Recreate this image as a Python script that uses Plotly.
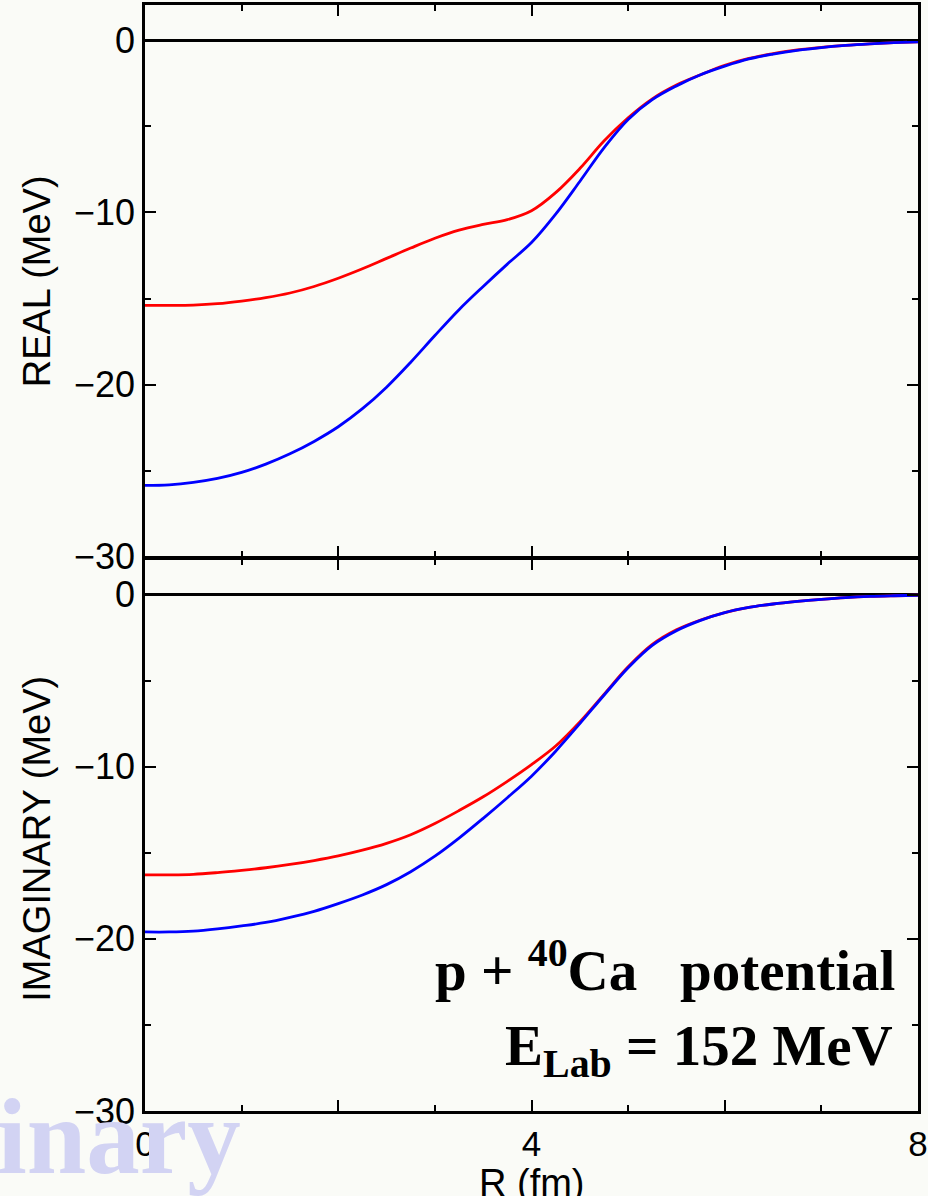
import plotly.graph_objects as go

# ---- data ----
r_grid = [0, 0.25, 0.5, 0.75, 1.0, 1.25, 1.5, 1.75, 2.0, 2.25, 2.5, 2.75, 3.0, 3.25,
          3.5, 3.75, 4.0, 4.25, 4.5, 4.75, 5.0, 5.25, 5.5, 5.75, 6.0, 6.25, 6.5,
          6.75, 7.0, 7.25, 7.5, 7.75, 8.0]

real_red = [-15.4, -15.4, -15.38, -15.3, -15.15, -14.95, -14.68, -14.3, -13.82, -13.27,
            -12.67, -12.07, -11.5, -11.03, -10.7, -10.42, -9.9, -8.85, -7.45, -5.85, -4.5,
            -3.4, -2.6, -2.0, -1.45, -1.05, -0.78, -0.56, -0.41, -0.3, -0.21, -0.14, -0.09]

real_blue = [-25.85, -25.82, -25.68, -25.45, -25.1, -24.62, -24.02, -23.3, -22.45, -21.4,
             -20.15, -18.7, -17.15, -15.65, -14.3, -13.0, -11.75, -10.1, -8.2, -6.25, -4.6,
             -3.45, -2.65, -2.0, -1.5, -1.08, -0.8, -0.58, -0.42, -0.3, -0.21, -0.14, -0.09]

imag_red = [-16.28, -16.28, -16.25, -16.15, -16.02, -15.87, -15.68, -15.45, -15.18, -14.85,
            -14.45, -13.95, -13.3, -12.55, -11.75, -10.85, -9.88, -8.8, -7.4, -5.8, -4.2,
            -2.9, -2.05, -1.48, -1.05, -0.75, -0.55, -0.4, -0.28, -0.18, -0.11, -0.07, -0.04]

imag_blue = [-19.6, -19.6, -19.55, -19.42, -19.25, -19.05, -18.75, -18.4, -17.95, -17.45,
             -16.85, -16.1, -15.2, -14.15, -13.0, -11.8, -10.55, -9.1, -7.5, -5.85, -4.25,
             -2.95, -2.1, -1.5, -1.05, -0.75, -0.55, -0.4, -0.28, -0.18, -0.11, -0.07, -0.04]

RED = "#ff0000"
BLUE = "#0000ff"
BG = "#fafbf7"
SANS = "Liberation Sans, Arial, Helvetica, sans-serif"
SERIF = "Liberation Serif, Times New Roman, serif"

fig = go.Figure()

line_kw = dict(shape="spline", smoothing=1.0, width=2.8)
# top panel (REAL): xaxis2 / yaxis2
fig.add_trace(go.Scatter(x=r_grid, y=real_red, mode="lines", line=dict(color=RED, **line_kw),
                         xaxis="x2", yaxis="y2", showlegend=False))
fig.add_trace(go.Scatter(x=r_grid, y=real_blue, mode="lines", line=dict(color=BLUE, **line_kw),
                         xaxis="x2", yaxis="y2", showlegend=False))
# bottom panel (IMAGINARY): xaxis / yaxis
fig.add_trace(go.Scatter(x=r_grid, y=imag_red, mode="lines", line=dict(color=RED, **line_kw),
                         xaxis="x", yaxis="y", showlegend=False))
fig.add_trace(go.Scatter(x=r_grid, y=imag_blue, mode="lines", line=dict(color=BLUE, **line_kw),
                         xaxis="x", yaxis="y", showlegend=False))

LW = 2.5
xaxis_common = dict(range=[0, 8], showgrid=False, zeroline=False, showline=True,
                    linecolor="black", linewidth=LW, mirror="allticks", automargin=False,
                    ticks="inside", ticklen=11, tickwidth=2, tickcolor="black",
                    tickmode="linear", tick0=0, dtick=2, ticklabelstep=2,
                    minor=dict(ticks="inside", ticklen=6, tickwidth=2, tickcolor="black", dtick=1, showgrid=False),
                    tickfont=dict(family=SANS, size=35, color="black"))
yaxis_common = dict(range=[-30, 2.05], showgrid=False, zeroline=True, zerolinecolor="black",
                    zerolinewidth=2.5, showline=True, linecolor="black", linewidth=LW,
                    mirror="allticks", automargin=False, ticks="inside", ticklen=11, tickwidth=2,
                    tickcolor="black", tickmode="linear", tick0=0, dtick=10,
                    minor=dict(ticks="inside", ticklen=6, tickwidth=2, tickcolor="black", dtick=5, showgrid=False),
                    tickfont=dict(family=SANS, size=36, color="black"))

PLOT_H = 1196 - 5 - 85
gap = LW / PLOT_H

fig.update_layout(
    width=928, height=1196,
    margin=dict(l=145, r=10, t=5, b=85, autoexpand=False),
    paper_bgcolor=BG, plot_bgcolor=BG,
    xaxis=dict(**xaxis_common, anchor="y", domain=[0, 1]),
    xaxis2=dict(**xaxis_common, anchor="y2", domain=[0, 1], showticklabels=False, matches="x"),
    yaxis=dict(**yaxis_common, anchor="x", domain=[0, 0.5 - gap / 2]),
    yaxis2=dict(**yaxis_common, anchor="x2", domain=[0.5 + gap / 2, 1]),
)

annotations = [
    dict(text="<b>inary</b>", xref="paper", yref="paper", x=-0.194, y=-0.0235, xanchor="left", yanchor="middle",
         showarrow=False, font=dict(family=SERIF, size=107, color="#d2d3f3")),
    dict(text="REAL (MeV)", xref="paper", yref="paper", x=-0.14, y=0.75, xanchor="center", yanchor="middle",
         textangle=-90, showarrow=False, font=dict(family=SANS, size=38, color="black")),
    dict(text="IMAGINARY (MeV)", xref="paper", yref="paper", x=-0.14, y=0.246, xanchor="center", yanchor="middle",
         textangle=-90, showarrow=False, font=dict(family=SANS, size=38, color="black")),
    dict(text="R (fm)", xref="x", yref="paper", x=4.0, y=-0.065, xanchor="center", yanchor="middle",
         showarrow=False, font=dict(family=SANS, size=38, color="black")),
    dict(text="<b>p + <sup>40</sup>Ca\u00a0\u00a0\u00a0potential</b>", xref="x", yref="y", x=7.78, y=-21.6,
         xanchor="right", yanchor="middle", showarrow=False,
         font=dict(family=SERIF, size=57, color="black")),
    dict(text="<b>E<sub>Lab</sub> = 152 MeV</b>", xref="x", yref="y", x=7.76, y=-26.45,
         xanchor="right", yanchor="middle", showarrow=False,
         font=dict(family=SERIF, size=57, color="black")),
]
fig.update_layout(annotations=annotations)

fig.write_html("out.html", config={"displayModeBar": False},
               post_script="document.body.style.margin='0px';")
